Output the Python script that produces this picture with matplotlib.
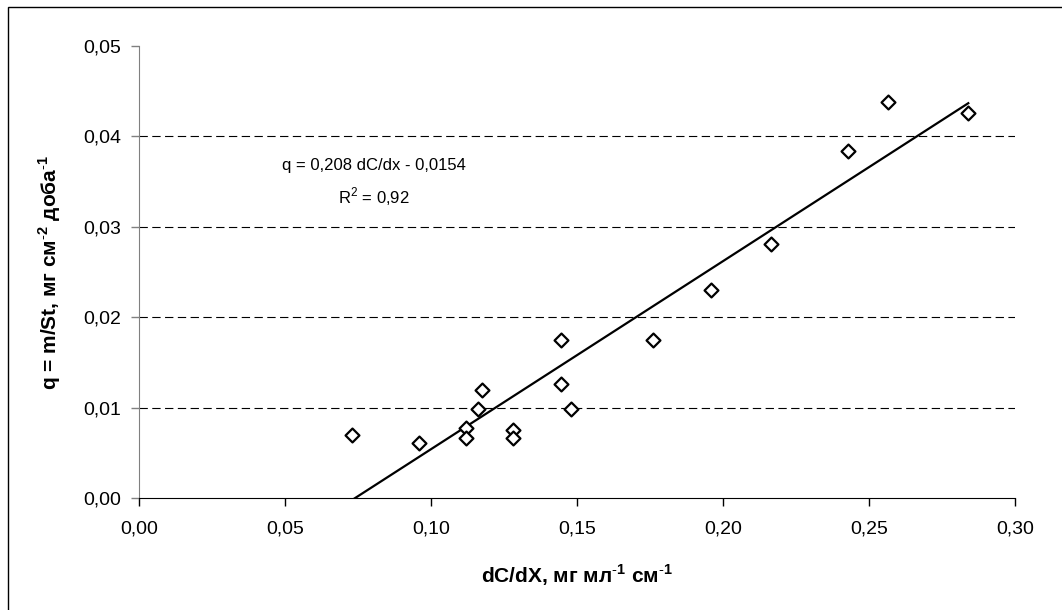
import matplotlib.pyplot as plt
import numpy as np
from matplotlib.ticker import FuncFormatter

plt.rcParams['font.family'] = ['Liberation Sans', 'DejaVu Sans']
plt.rcParams['mathtext.fontset'] = 'custom'
plt.rcParams['mathtext.rm'] = 'Liberation Sans'
plt.rcParams['mathtext.bf'] = 'Liberation Sans:bold'

# dC/dX and q values
dcdx = [0.073, 0.096, 0.112, 0.112, 0.116, 0.1175, 0.128, 0.128, 0.1445,
        0.1445, 0.148, 0.176, 0.196, 0.2164, 0.2428, 0.2565, 0.284]
q = [0.0070, 0.0061, 0.0077, 0.0066, 0.0099, 0.0120, 0.0075, 0.0066, 0.0175,
     0.0126, 0.0098, 0.0175, 0.0230, 0.0281, 0.0384, 0.0438, 0.0426]

slope = 0.208
intercept = -0.0154
eq_text = "q = 0,208 dC/dx - 0,0154"
r2_text = r"R$^{\mathrm{2}}$ = 0,92"

xticks = [0.00, 0.05, 0.10, 0.15, 0.20, 0.25, 0.30]
yticks = [0.00, 0.01, 0.02, 0.03, 0.04, 0.05]

fig = plt.figure(figsize=(10.62, 6.10), dpi=100)
ax = fig.add_axes([139 / 1062, 1 - 498 / 610, 876 / 1062, 452 / 610])

# outer frame (only left/top visible in the original)
fig.add_artist(plt.Rectangle((8 / 1062, -0.05), 1.1, 1 - 7 / 610 + 0.05,
                             transform=fig.transFigure, fill=False,
                             edgecolor='black', linewidth=1.0))

for yv in yticks[1:-1]:
    ax.axhline(yv, color='black', linewidth=0.8, linestyle=(0, (7.5, 4)), zorder=1)

ax.scatter(dcdx, q, marker='D', s=50, facecolors='white', edgecolors='black',
           linewidths=1.6, zorder=3)

xl = np.array([min(dcdx), max(dcdx)])
ax.plot(xl, slope * xl + intercept, color='black', linewidth=1.6, zorder=2)

ax.text(0.0805, 0.0368, eq_text, fontsize=12, ha='center', va='center')
ax.text(0.0805, 0.0333, r2_text, fontsize=12, ha='center', va='center')

ax.set_xlim(0, 0.30)
ax.set_ylim(0, 0.05)
ax.set_xticks(xticks)
ax.set_yticks(yticks)
fmt = FuncFormatter(lambda v, p: f"{v:.2f}".replace('.', ','))
ax.xaxis.set_major_formatter(fmt)
ax.yaxis.set_major_formatter(fmt)
ax.tick_params(axis='both', direction='out', length=6, width=1, labelsize=14)
ax.tick_params(axis='x', pad=10)
ax.tick_params(axis='y', pad=7, color='#808080')

ax.spines['top'].set_visible(False)
ax.spines['right'].set_visible(False)
ax.spines['left'].set_color('#808080')
ax.spines['bottom'].set_color('black')

ax.set_xlabel(r"dC/dX, мг мл$^{\mathbf{\text{-}1}}$ см$^{\mathbf{\text{-}1}}$",
              fontsize=15, fontweight='bold', labelpad=18)
ax.set_ylabel(r"q = m/St, мг см$^{\mathbf{\text{-}2}}$ доба$^{\mathbf{\text{-}1}}$",
              fontsize=15, fontweight='bold', labelpad=14)

fig.savefig('out.png', dpi=100)
